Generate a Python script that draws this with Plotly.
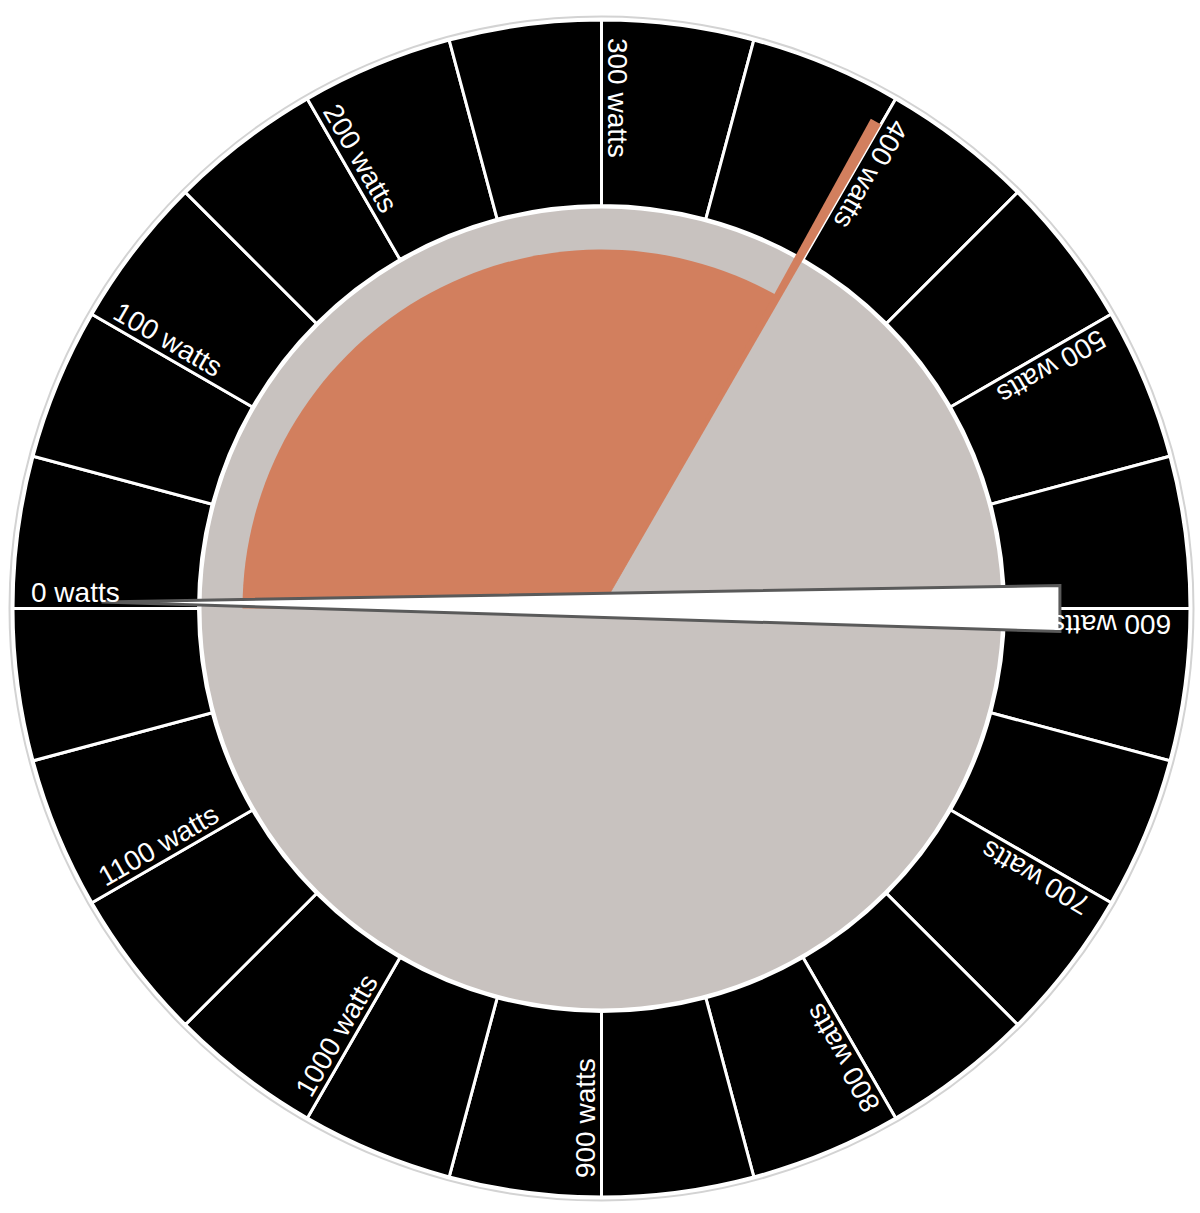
import math
import plotly.graph_objects as go

# ---------------- data ----------------
max_watts = 1200
segment_watts = 50
tick_watts = [0, 100, 200, 300, 400, 500, 600, 700, 800, 900, 1000, 1100]
tick_labels = ["0 watts", "100 watts", "200 watts", "300 watts", "400 watts", "500 watts",
               "600 watts", "700 watts", "800 watts", "900 watts", "1000 watts", "1100 watts"]
value_watts = 398
needle_tip_watts = 2.5
needle_tail_watts = 600
needle_half_width_watts = 9.6

# ---------------- layout constants ----------------
W, H = 1200, 1213
R_AX = 592.0          # polar radius in px (radial range maps 1:1 to px)
CX, CY = 601.5, 608.5 # centre in px (from top-left)
R_GRAY = 400
R_RING_IN = 403
R_RING_OUT = 588.5
R_FILL = 359
R_THIN = 559
R_TEXT_START = 570
FS = 28

BLACK = "#000000"
GRAY = "#C8C2BF"
ORANGE = "#D27F5E"
NEEDLE_LINE = "#5A5A5A"


def deg(w):
    return w * 360.0 / max_watts


n_seg = max_watts // segment_watts
seg_centers = [deg(i * segment_watts + segment_watts / 2) for i in range(n_seg)]

fig = go.Figure()

# inner gray disc
fig.add_trace(go.Barpolar(r=[R_GRAY], theta=[180], width=[360], base=0,
                          marker=dict(color=GRAY, line=dict(width=0)),
                          hoverinfo="skip"))
# outer black ring segments
fig.add_trace(go.Barpolar(r=[R_RING_OUT - R_RING_IN] * n_seg, theta=seg_centers,
                          width=[deg(segment_watts)] * n_seg, base=R_RING_IN,
                          marker=dict(color=BLACK, line=dict(color="white", width=3)),
                          hoverinfo="skip"))
# value wedge
fig.add_trace(go.Barpolar(r=[R_FILL], theta=[deg(value_watts / 2)], width=[deg(value_watts)],
                          base=0, marker=dict(color=ORANGE, line=dict(width=0)),
                          hoverinfo="skip"))
# thin value indicator
fig.add_trace(go.Barpolar(r=[R_THIN], theta=[deg(value_watts)], width=[1.2], base=0,
                          marker=dict(color=ORANGE, line=dict(width=0)),
                          hoverinfo="skip"))
# needle
fig.add_trace(go.Scatterpolar(
    r=[500, 459, 459, 500],
    theta=[deg(needle_tip_watts), deg(needle_tail_watts - needle_half_width_watts),
           deg(needle_tail_watts + needle_half_width_watts), deg(needle_tip_watts)],
    mode="lines", fill="toself", fillcolor="white",
    line=dict(color=NEEDLE_LINE, width=3), hoverinfo="skip"))

# rotated labels
annotations = []
for w, lab in zip(tick_watts, tick_labels):
    th = deg(w)                 # clockwise from the left
    phi = math.radians(180 - th)  # math angle
    nd = len(str(w))
    tw = (0.556 * nd + 0.278 + 2.334) * FS
    rc = R_TEXT_START - tw / 2
    p = 16
    ux, uy = math.cos(phi), math.sin(phi)
    tx, ty = math.sin(phi), -math.cos(phi)
    X = rc * ux + p * tx
    Y = rc * uy + p * ty
    px = (CX + X) / W
    py = 1 - (CY - Y) / H
    ang = th if th <= 180 else th - 360
    annotations.append(dict(x=px, y=py, xref="paper", yref="paper", text=lab,
                            showarrow=False, textangle=ang, xanchor="center",
                            yanchor="middle",
                            font=dict(family="Arial, Liberation Sans, sans-serif",
                                      size=FS, color="white")))

fig.update_layout(
    width=W, height=H,
    margin=dict(l=0, r=0, t=0, b=0),
    paper_bgcolor="white", plot_bgcolor="white",
    showlegend=False,
    annotations=annotations,
    polar=dict(
        domain=dict(x=[(CX - R_AX) / W, (CX + R_AX) / W],
                    y=[(H - CY - R_AX) / H, (H - CY + R_AX) / H]),
        bgcolor="rgba(0,0,0,0)",
        bargap=0,
        radialaxis=dict(visible=False, range=[0, R_AX]),
        angularaxis=dict(rotation=180, direction="clockwise", showgrid=False,
                         showticklabels=False, ticks="", showline=True,
                         linecolor="#D3D3D3", linewidth=2),
    ),
)

fig.write_html("out.html")
